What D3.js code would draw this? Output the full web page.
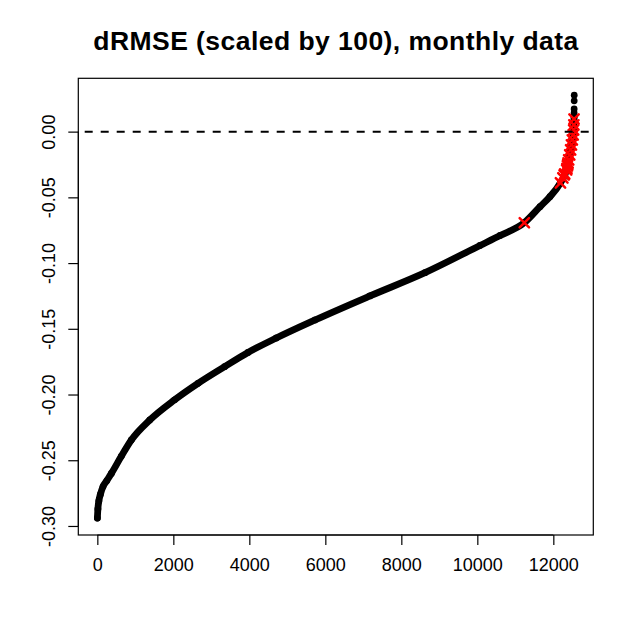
<!DOCTYPE html>
<html>
<head>
<meta charset="utf-8">
<script src="https://cdn.jsdelivr.net/npm/d3@7"></script>
<style>
  body { margin: 0; background: #fff; }
  text { font-family: "Liberation Sans", Arial, sans-serif; fill: #000; }
</style>
</head>
<body>
<div id="vis"></div>
<script>
const FRAME_WIDTH = 634;
const FRAME_HEIGHT = 633;
const BOX = {left: 78.3, right: 593.3, top: 78.3, bottom: 535};

// sorted dRMSE values at selected ranks
const curveRank = [1, 15, 40, 80, 150, 250, 370, 630, 895, 1380, 2035, 2650, 3350, 3965,
                   4710, 5729, 7176, 8624, 10070, 10600, 11237, 11650, 11910, 12180,
                   12350, 12440, 12530, 12546, 12547, 12548, 12549, 12550];
const curveValue = [-0.294, -0.287, -0.281, -0.276, -0.270, -0.2655, -0.260, -0.247, -0.2346,
                    -0.2194, -0.2040, -0.1915, -0.1788, -0.1680, -0.1570, -0.1433, -0.1250,
                    -0.1073, -0.0866, -0.0790, -0.0693, -0.0571, -0.0495, -0.0393, -0.0291,
                    -0.0164, -0.0012, 0.0114, 0.0142, 0.0173, 0.0234, 0.0277];

// highlighted points (red crosses)
const redRank = [11237, 12188, 12251, 12285, 12300, 12350, 12358, 12371, 12380, 12388, 12404,
                 12431, 12455, 12477, 12500, 12522, 12535, 12540, 12545];
const redValue = [-0.0693, -0.0390, -0.0352, -0.0330, -0.0322, -0.0291, -0.0280, -0.0261,
                  -0.0250, -0.0238, -0.0215, -0.0177, -0.0139, -0.0101, -0.0063, -0.0025,
                  0.0013, 0.0051, 0.0096];

const xTicks = [0, 2000, 4000, 6000, 8000, 10000, 12000];
const yTicks = [-0.30, -0.25, -0.20, -0.15, -0.10, -0.05, 0.00];
const TITLE = "dRMSE (scaled by 100), monthly data";

const curve = curveRank.map((r, i) => ({rank: r, value: curveValue[i]}));
const red = redRank.map((r, i) => ({rank: r, value: redValue[i]}));

// R style 4% padding on both axes
const X_MIN = d3.min(curveRank), X_MAX = d3.max(curveRank);
const Y_MIN = d3.min(curveValue), Y_MAX = d3.max(curveValue);
const X_PAD = 0.04 * (X_MAX - X_MIN), Y_PAD = 0.04 * (Y_MAX - Y_MIN);

const X_SCALE = d3.scaleLinear()
        .domain([X_MIN - X_PAD, X_MAX + X_PAD])
        .range([BOX.left, BOX.right]);
const Y_SCALE = d3.scaleLinear()
        .domain([Y_MIN - Y_PAD, Y_MAX + Y_PAD])
        .range([BOX.bottom, BOX.top]);

const svg = d3.select("#vis")
        .append("svg")
          .attr("width", FRAME_WIDTH)
          .attr("height", FRAME_HEIGHT);

// title
svg.append("text")
    .attr("x", (BOX.left + BOX.right) / 2)
    .attr("y", 49.5)
    .attr("text-anchor", "middle")
    .attr("font-size", "26.5px")
    .attr("font-weight", "bold")
    .attr("textLength", 485)
    .attr("lengthAdjust", "spacing")
    .text(TITLE);

const plot = svg.append("g");
plot.append("clipPath").attr("id", "clip")
  .append("rect")
    .attr("x", BOX.left).attr("y", BOX.top)
    .attr("width", BOX.right - BOX.left).attr("height", BOX.bottom - BOX.top);

const marks = plot.append("g").attr("clip-path", "url(#clip)");

// dense run of points drawn as a thick line, plus the points themselves
const line = d3.line()
        .x(d => X_SCALE(d.rank))
        .y(d => Y_SCALE(d.value))
        .curve(d3.curveMonotoneX);

marks.append("path")
    .datum(curve.slice(0, curve.length - 4))
    .attr("d", line)
    .attr("fill", "none")
    .attr("stroke", "#000")
    .attr("stroke-width", 6.8)
    .attr("stroke-linecap", "round")
    .attr("stroke-linejoin", "round");

marks.selectAll(".pt")
    .data(curve)
    .enter()
    .append("circle")
      .attr("cx", d => X_SCALE(d.rank))
      .attr("cy", d => Y_SCALE(d.value))
      .attr("r", 3.4)
      .attr("fill", "#000");

marks.selectAll(".cross")
    .data(red)
    .enter()
    .append("path")
      .attr("transform", d => "translate(" + X_SCALE(d.rank) + "," + Y_SCALE(d.value) + ")")
      .attr("d", "M-4.7,-4.7L4.7,4.7M-4.7,4.7L4.7,-4.7")
      .attr("stroke", "#ff0000")
      .attr("stroke-width", 2.5)
      .attr("stroke-linecap", "round");

// horizontal reference line at zero
marks.append("line")
    .attr("x1", BOX.left).attr("x2", BOX.right)
    .attr("y1", Y_SCALE(0)).attr("y2", Y_SCALE(0))
    .attr("stroke", "#000")
    .attr("stroke-width", 2)
    .attr("stroke-dasharray", "8,8")
    .attr("stroke-dashoffset", 9.6);

// box
plot.append("rect")
    .attr("x", BOX.left).attr("y", BOX.top)
    .attr("width", BOX.right - BOX.left).attr("height", BOX.bottom - BOX.top)
    .attr("fill", "none")
    .attr("stroke", "#000")
    .attr("stroke-width", 1.2);

// x axis
const xAxis = svg.append("g")
    .attr("transform", "translate(0," + BOX.bottom + ")")
    .call(d3.axisBottom(X_SCALE).tickValues(xTicks).tickSize(10).tickFormat(d => String(d)));
xAxis.select(".domain")
    .attr("d", "M" + X_SCALE(xTicks[0]) + ",0H" + X_SCALE(xTicks[xTicks.length - 1]));
xAxis.selectAll("line").attr("stroke-width", 1.2);
xAxis.selectAll("text")
    .attr("dy", null)
    .attr("y", 35.7)
    .attr("font-size", "18px")
    .attr("font-family", "Liberation Sans, Arial, sans-serif");

// y axis
const yAxis = svg.append("g")
    .attr("transform", "translate(" + BOX.left + ",0)")
    .call(d3.axisLeft(Y_SCALE).tickValues(yTicks).tickSize(10).tickFormat(d => d.toFixed(2)));
yAxis.select(".domain")
    .attr("d", "M0," + Y_SCALE(yTicks[0]) + "V" + Y_SCALE(yTicks[yTicks.length - 1]));
yAxis.selectAll("line").attr("stroke-width", 1.2);
yAxis.selectAll("text")
    .attr("dy", null)
    .attr("x", 0)
    .attr("y", -23.3)
    .attr("transform", "rotate(-90)")
    .attr("text-anchor", "middle")
    .attr("font-size", "18px")
    .attr("font-family", "Liberation Sans, Arial, sans-serif");
</script>
</body>
</html>
